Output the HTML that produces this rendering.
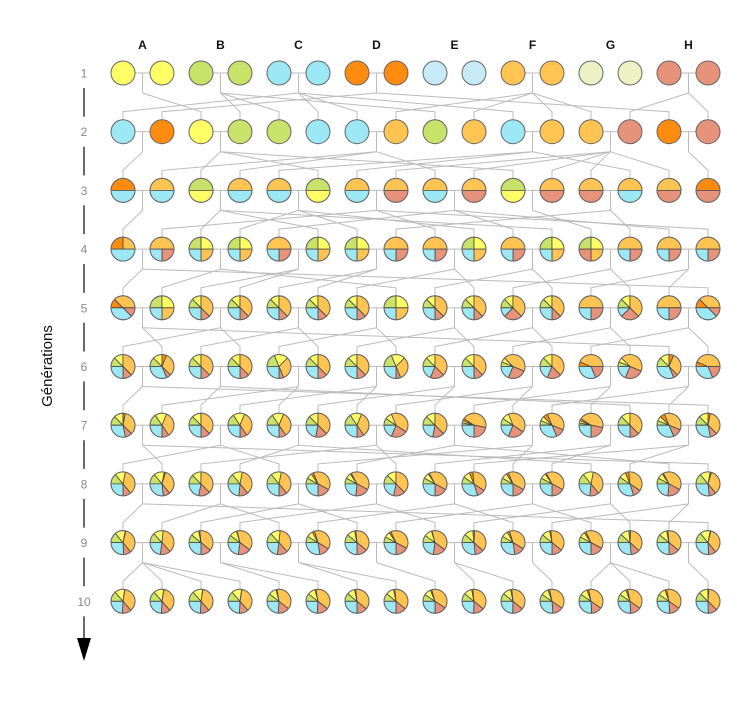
<!DOCTYPE html>
<html><head><meta charset="utf-8">
<style>
html,body{margin:0;padding:0;background:#fff;}
svg{display:block;font-family:"Liberation Sans",sans-serif;}
</style></head>
<body>
<svg id="chart" width="754" height="704" viewBox="0 0 754 704">
  <g id="labels"></g>
  <g id="links"></g>
  <g id="pies"></g>
</svg>
<script>
// Founder lineages and colours
const founders = ["A","B","C","D","E","F","G","H"];
const founderColors = ["#ffff66","#c9e26a","#9ce8f4","#ff8c0f","#c6eaf6","#ffc452","#eef1c4","#e7927a"];
// Slice order in each pie (clockwise from 9 o'clock)
const sliceOrder = ["B","A","D","F","H","C","E","G"];
// Generation labels
const generationLabels = ["1","2","3","4","5","6","7","8","9","10"];
// Gen 1 founders: each column's lineage
const gen1 = ["A","A","B","B","C","C","D","D","E","E","F","F","G","G","H","H"];
// For each later generation: index of parent pair (cols 2k,2k+1) in previous generation
const parents2 = [2,3,0,1,1,2,2,5,1,5,2,5,5,7,3,7];
const parents3 = [0,3,1,3,5,1,5,6,3,6,1,6,6,5,6,7];
const parents4 = [0,3,1,2,4,1,2,6,3,2,4,1,5,6,4,3];
const parents5 = [0,1,2,2,3,3,4,1,5,4,6,5,7,6,7,0];
const parents6 = [1,0,2,1,3,2,4,3,5,4,6,5,7,6,0,7];
const parents7 = [0,2,1,3,2,4,3,5,4,6,5,7,6,1,7,0];
const parents8 = [1,0,3,2,1,5,4,3,6,7,5,6,2,7,4,0];
const parents9 = [0,1,2,3,1,4,2,5,3,6,4,7,5,6,7,0];
const parents10 = [0,0,0,0,1,1,2,2,3,4,4,5,6,6,6,7];
const parentsByGen = [null,parents2,parents3,parents4,parents5,parents6,parents7,parents8,parents9,parents10];

const NS="http://www.w3.org/2000/svg";
const X0=123, DX=39, Y0=73, DY=58.7, R=12;
const colX = i => X0 + DX*i;
const rowY = g => Y0 + DY*g;
const pairX = k => X0 + DX*(2*k+0.5);
function mk(tag, attrs, parent){const e=document.createElementNS(NS,tag);for(const k in attrs)e.setAttribute(k,attrs[k]);parent.appendChild(e);return e;}

const gL=document.getElementById('labels'), gK=document.getElementById('links'), gP=document.getElementById('pies');

// compositions
const comps=[];
comps.push(gen1.map(f=>{const c={};c[f]=1;return c;}));
for(let g=1; g<10; g++){
  const prev=comps[g-1], par=parentsByGen[g];
  comps.push(par.map(k=>{
    const a=prev[2*k], b=prev[2*k+1], c={};
    for(const f in a) c[f]=(c[f]||0)+a[f]/2;
    for(const f in b) c[f]=(c[f]||0)+b[f]/2;
    return c;
  }));
}

// column headers
founders.forEach((f,k)=>{
  const t=mk('text',{x:pairX(k),y:49,'text-anchor':'middle','font-size':12,'font-weight':'bold',fill:'#111'},gL);
  t.textContent=f;
  
  
});
// row labels and dashes
generationLabels.forEach((lab,g)=>{
  const t=mk('text',{x:84,y:rowY(g)+4.5,'text-anchor':'middle','font-size':12,fill:'#888'},gL);
  t.textContent=lab;
  
  
  const y1=rowY(g)+15, y2 = g<9 ? rowY(g+1)-15 : 644;
  const d=mk('line',{x1:84,y1:y1,x2:84,y2:y2,stroke:'#444','stroke-width':1.6},gL);
  
  
});
const arrow=mk('polygon',{points:'77,638 91,638 84,661',fill:'#000'},gL);


const yt=mk('text',{x:0,y:0,'text-anchor':'middle','font-size':15,fill:'#111',transform:'translate(52,366) rotate(-90)'},gL);
yt.textContent='Générations';



// links
for(let g=1; g<10; g++){
  const par=parentsByGen[g], used=new Set(par);
  used.forEach(k=>{
    const yp=rowY(g-1);
    const pl=mk('polyline',{points:`${colX(2*k)+R},${yp} ${colX(2*k+1)-R},${yp}`,fill:'none',stroke:'#bbb','stroke-width':1},gK);
    
    
    const dl=mk('line',{x1:pairX(k),y1:yp,x2:pairX(k),y2:yp+20,stroke:'#bbb','stroke-width':1},gK);
    
    
  });
  par.forEach((k,i)=>{
    const yp=rowY(g-1), yc=rowY(g);
    const l=mk('polyline',{points:`${pairX(k)},${yp+20} ${colX(i)},${yc-20} ${colX(i)},${yc-R}`,fill:'none',stroke:'#bbb','stroke-width':1},gK);
    
    
  });
}

// pies
comps.forEach((row,g)=>{
  row.forEach((c,i)=>{
    const cx=colX(i), cy=rowY(g);
    const grp=mk('g',{},gP);
    
    
    const parts=sliceOrder.filter(f=>c[f]>0).map(f=>[f,c[f]]);
    if(parts.length===1){
      const f=parts[0][0];
      mk('circle',{cx:cx,cy:cy,r:R,fill:founderColors[founders.indexOf(f)],stroke:'#666','stroke-width':1},grp);
      return;
    }
    let a=Math.PI;
    parts.forEach(([f,v])=>{
      const a2=a+v*2*Math.PI;
      const x1=cx+R*Math.cos(a), y1=cy+R*Math.sin(a), x2=cx+R*Math.cos(a2), y2=cy+R*Math.sin(a2);
      const large=(a2-a)>Math.PI?1:0;
      const s=mk('path',{d:`M${cx},${cy} L${x1.toFixed(2)},${y1.toFixed(2)} A${R},${R} 0 ${large} 1 ${x2.toFixed(2)},${y2.toFixed(2)} Z`,fill:founderColors[founders.indexOf(f)],stroke:'#444','stroke-width':0.8,'stroke-linejoin':'round'},grp);
      
      
      a=a2;
    });
    mk('circle',{cx:cx,cy:cy,r:R,fill:'none',stroke:'#666','stroke-width':1},grp);
  });
});
</script>
</body></html>
